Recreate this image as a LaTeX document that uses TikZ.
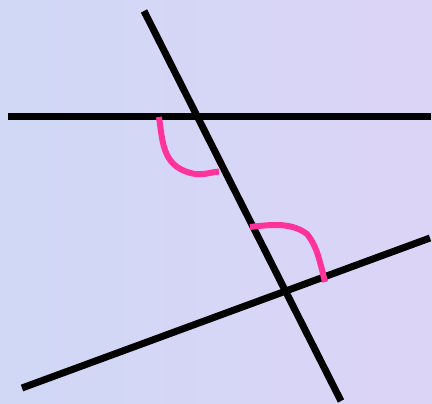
\documentclass[tikz,border=0pt]{standalone}
\definecolor{bgL}{RGB}{208,216,246}
\definecolor{bgM}{RGB}{196,222,246}
\definecolor{bgR}{RGB}{220,212,246}
\definecolor{arcpink}{RGB}{255,51,153}
\begin{document}
\begin{tikzpicture}[x=1pt,y=-1pt,
  blackline/.style={line width=7pt,black},
  anglemark/.style={line width=6pt,arcpink}]
\useasboundingbox (0,0) rectangle (432,404);
\shade[left color=bgL,middle color=bgM,right color=bgR] (0,0) rectangle (432,404);
\coordinate (h1) at (8,116.5);
\coordinate (h2) at (431,116.5);
\coordinate (t1) at (144,11);
\coordinate (t2) at (341,401);
\coordinate (l1) at (22,388);
\coordinate (l2) at (430,238);
\draw[blackline] (h1) -- (h2);
\draw[blackline] (t1) -- (t2);
\draw[blackline] (l1) -- (l2);
\draw[anglemark] (159,117) .. controls (163,145) and (163,168) .. (195,174) .. controls (205,175) and (212,172) .. (219,171.5);
\draw[anglemark] (250,227) .. controls (275,224) and (292,223) .. (307,234) .. controls (317,246) and (320,262) .. (325,282);
\end{tikzpicture}
\end{document}
